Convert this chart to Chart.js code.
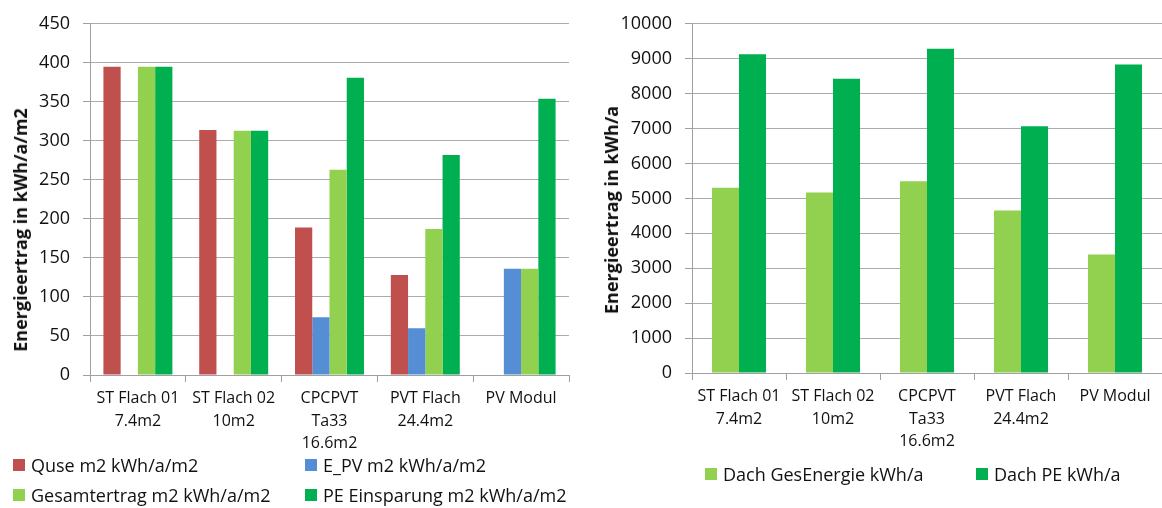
<!DOCTYPE html>
<html>
<head>
<meta charset="utf-8">
<script src="https://cdn.jsdelivr.net/npm/chart.js@4.4.1/dist/chart.umd.min.js"></script>
<style>
  body { margin: 0; background: #fff; font-family: "Open Sans", sans-serif; }
  #wrap { position: relative; width: 1162px; height: 508px; overflow: hidden; }
  canvas { position: absolute; top: 0; }
  .ytitle { position: absolute; transform: translate(-50%, -50%) rotate(-90deg); font-weight: bold; font-size: 18px; white-space: nowrap; color: #111; }
  .leg { position: absolute; display: flex; align-items: center; font-size: 18px; white-space: nowrap; transform: translateY(-50%); color: #111; }
  .leg i { display: inline-block; width: 12px; height: 12px; margin-right: 6px; }
</style>
</head>
<body>
<div id="wrap">
  <canvas id="leftChart" width="590" height="508" style="left:0"></canvas>
  <canvas id="rightChart" width="572" height="508" style="left:590px"></canvas>
  <div class="ytitle" style="left:20px; top:230px">Energieertrag in kWh/a/m2</div>
  <div class="ytitle" style="left:611px; top:210px">Energieertrag in kWh/a</div>
</div>
<script>
// Data
const categories = [
  ["ST Flach 01", "7.4m2"],
  ["ST Flach 02", "10m2"],
  ["CPCPVT", "Ta33", "16.6m2"],
  ["PVT Flach", "24.4m2"],
  ["PV Modul"]
];

// left chart, kWh/a/m2
const quse = [395, 314, 189, 128, null];
const ePV = [null, null, 74, 60, 136];
const gesamtertrag = [395, 313, 263, 187, 136];
const peEinsparung = [395, 313, 381, 282, 354];

// right chart, kWh/a
const dachGesEnergie = [5306, 5166, 5490, 4650, 3390];
const dachPE = [9127, 8428, 9287, 7068, 8835];

const leftAxis = { max: 450, step: 50 };
const rightAxis = { max: 10000, step: 1000 };

const RED = "#C0504D", BLUE = "#558ED5", LIGHT = "#92D050", GREEN = "#00B050";
const GRID = "#ABABAB", AXIS = "#A0A0A0", TXT = "#111";
const FONT = "'Open Sans', sans-serif";

const makeChart = (id, datasets, axis, opts) => {
  const ctx = document.getElementById(id).getContext("2d");
  return new Chart(ctx, {
    type: "bar",
    data: { labels: categories, datasets: datasets },
    options: {
      responsive: false,
      animation: false,
      layout: { padding: { top: opts.top, right: opts.right, left: 0, bottom: 0 } },
      datasets: { bar: { barPercentage: 1, categoryPercentage: opts.catPct } },
      plugins: { legend: { display: false }, tooltip: { enabled: false } },
      scales: {
        x: {
          grid: { display: true, drawOnChartArea: false, drawTicks: true, tickLength: 7, color: AXIS, offset: true },
          border: { display: true, color: AXIS, width: 1 },
          ticks: { color: TXT, padding: 5, maxRotation: 0, autoSkip: false,
                   font: { family: FONT, size: 16, lineHeight: 1.42 } },
          afterFit: (scale) => { scale.height = 508 - opts.bottom; }
        },
        y: {
          min: 0, max: axis.max,
          grid: { color: GRID, lineWidth: 1, tickLength: 7, tickColor: AXIS },
          border: { display: true, color: AXIS, width: 1 },
          ticks: { stepSize: axis.step, color: TXT, padding: 13,
                   callback: (v) => String(v),
                   font: { family: FONT, size: 18 } },
          afterFit: (scale) => { scale.width = opts.axisX; }
        }
      }
    }
  });
};

const leftChart = makeChart("leftChart", [
  { label: "Quse m2 kWh/a/m2", data: quse, backgroundColor: RED },
  { label: "E_PV m2 kWh/a/m2", data: ePV, backgroundColor: BLUE },
  { label: "Gesamtertrag m2 kWh/a/m2", data: gesamtertrag, backgroundColor: LIGHT },
  { label: "PE Einsparung m2 kWh/a/m2", data: peEinsparung, backgroundColor: GREEN }
], leftAxis, { top: 20, bottom: 375, right: 21, axisX: 90, catPct: 0.72 });

const rightChart = makeChart("rightChart", [
  { label: "Dach GesEnergie kWh/a", data: dachGesEnergie, backgroundColor: LIGHT },
  { label: "Dach PE kWh/a", data: dachPE, backgroundColor: GREEN }
], rightAxis, { top: 16, bottom: 373, right: 0, axisX: 102, catPct: 0.575 });

// Legends (html, built from the datasets)
const wrap = document.getElementById("wrap");
const addLegend = (chart, spots) => {
  chart.data.datasets.forEach((ds, i) => {
    const item = document.createElement("div");
    item.className = "leg";
    item.style.left = spots[i][0] + "px";
    item.style.top = spots[i][1] + "px";
    item.innerHTML = `<i style="background:${ds.backgroundColor}"></i>${ds.label}`;
    wrap.appendChild(item);
  });
};
addLegend(leftChart, [[13, 465], [305, 465], [13, 495], [305, 495]]);
addLegend(rightChart, [[705, 474], [976, 474]]);
</script>
</body>
</html>
